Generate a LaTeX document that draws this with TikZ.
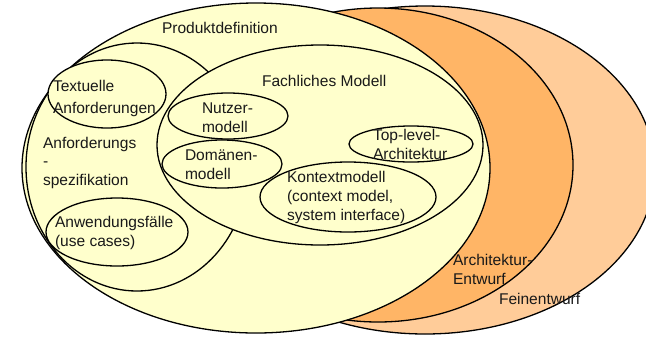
\documentclass[tikz,border=0pt]{standalone}
\usepackage{fontspec}
\setmainfont{Liberation Sans}
\begin{document}
\begin{tikzpicture}[x=1bp,y=-1bp,
  every node/.style={inner sep=0pt,outer sep=0pt,font=\fontsize{15.6}{18.6}\selectfont,
    align=left,anchor=base west,text=black!90},
  ring/.style={draw=black,line width=1.3bp},
  yellowfill/.style={ring,fill=yellowbg},
]
\definecolor{yellowbg}{HTML}{FFFFCC}
\definecolor{archorange}{HTML}{FFB566}
\definecolor{peach}{HTML}{FFCC99}
\clip (0,0) rectangle (646,336);

% design layers, outermost behind
\path[ring,fill=peach] (425,170) ellipse [x radius=230,y radius=164];
\path[ring,fill=archorange] (378,165) ellipse [x radius=195,y radius=157];
\path[yellowfill] (256,168) ellipse [x radius=234,y radius=165];

% requirement specification and domain model
\path[yellowfill] (137,167) ellipse [x radius=111,y radius=124];
\path[yellowfill] (320,145) ellipse [x radius=163,y radius=100];

% inner artefacts
\path[yellowfill] (107,94) ellipse [x radius=59,y radius=34];
\path[yellowfill] (117,232) ellipse [x radius=71,y radius=34];
\path[yellowfill] (228,116) ellipse [x radius=60,y radius=23];
\path[yellowfill] (222,164) ellipse [x radius=60,y radius=24];
\path[yellowfill] (348,197) ellipse [x radius=88,y radius=35];
\path[yellowfill] (411,144) ellipse [x radius=62,y radius=18];

% labels (multi-line nodes are placed by the baseline of their last line)
\node (prod) at (162,33.3) {Produktdefinition};
\node (fach) at (262,86.5) {Fachliches Modell};
\node (text) at (53,113) {Textuelle\\[2.5bp]Anforderungen};
\node (anf) at (43,185.5) {Anforderungs\\-\\spezifikation};
\node (anw) at (55,246) {Anwendungsfälle\\(use cases)};
\node (nutz) at (202,132) {Nutzer-\\modell};
\node (dom) at (185,179.5) {Domänen-\\modell};
\node (kont) at (287,220) {Kontextmodell\\(context model,\\system interface)};
\node (top) at (373,159) {Top-level-\\Architektur};
\node (arch) at (453,284.5) {Architektur-\\Entwurf};
\node (fein) at (499,304.5) {Feinentwurf};
\end{tikzpicture}
\end{document}
